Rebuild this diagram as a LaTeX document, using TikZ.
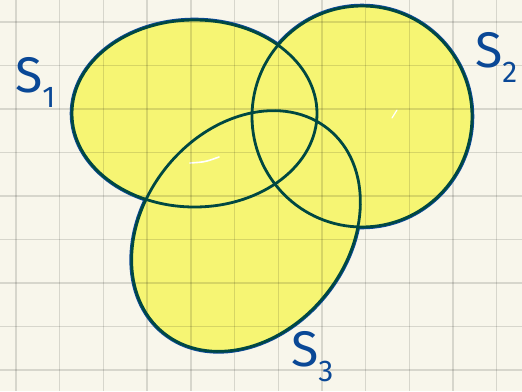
\documentclass[tikz,border=0pt]{standalone}
\usepackage{fontspec}
\setmainfont{Fira Sans}
\definecolor{paper}{RGB}{248,246,235}
\definecolor{hl}{RGB}{246,245,115}
\definecolor{ink}{RGB}{0,72,66}
\definecolor{pen}{RGB}{10,72,150}
\tikzset{
  gridline/.style={draw=black, draw opacity=0.13, line width=1.4pt},
  setfill/.style={fill=hl},
  setline/.style={draw=ink, line width=2.8pt},
  penline/.style={draw=pen, line width=2.6pt},
  lbl/.style={text=pen, font=\fontsize{50}{50}\selectfont, inner sep=0pt},
}
\newcommand{\subd}[1]{\raisebox{-15pt}{\fontsize{30}{30}\selectfont #1}}
\begin{document}
\begin{tikzpicture}[x=1pt, y=-1pt]
  \useasboundingbox (0,0) rectangle (522,391);
  \fill[paper] (0,0) rectangle (522,391);
  % highlighter fills
  \fill[setfill] (194.5,113.5) ellipse [x radius=122.5pt, y radius=93.5pt];
  \fill[setfill] (362,116.5) ellipse [x radius=110pt, y radius=110.5pt];
  \fill[setfill, shift={(246,231)}, rotate=51] (0,0) ellipse [x radius=131pt, y radius=102pt];
  % white gleams
  \draw[white, line width=1.6pt, line cap=round] (190,163) .. controls (205,162) .. (219,157);
  \draw[white, line width=1.2pt, line cap=round] (392,118) -- (397,110);
  % grid
  \foreach \gx in {16,59.7,103.4,147.1,190.8,234.5,278.2,321.9,365.6,409.3,453,496.7}
    \draw[gridline] (\gx,0) -- (\gx,391);
  \foreach \gy in {22,65.5,109,152.5,196,239.5,283,326.5,370}
    \draw[gridline] (0,\gy) -- (522,\gy);
  % blue pen fringe outside the union
  \begin{scope}[even odd rule]
    \clip (-10,-10) rectangle (540,400) (194.5,113.5) ellipse [x radius=122.5pt, y radius=93.5pt];
    \clip (-10,-10) rectangle (540,400) (362,116.5) ellipse [x radius=110pt, y radius=110.5pt];
    \clip[shift={(246,231)}, rotate=51] (-900,-900) rectangle (900,900) (0,0) ellipse [x radius=131pt, y radius=102pt];
    \draw[penline] (194.5,113.5) ellipse [x radius=123.5pt, y radius=94.5pt];
    \draw[penline] (362,116.5) ellipse [x radius=111pt, y radius=111.5pt];
    \draw[penline, shift={(246,231)}, rotate=51] (0,0) ellipse [x radius=132pt, y radius=103pt];
  \end{scope}
  % outlines
  \draw[setline] (194.5,113.5) ellipse [x radius=122.5pt, y radius=93.5pt];
  \draw[setline] (362,116.5) ellipse [x radius=110pt, y radius=110.5pt];
  \draw[setline, shift={(246,231)}, rotate=51] (0,0) ellipse [x radius=131pt, y radius=102pt];
  % labels
  \node[lbl, anchor=west] (s1) at (15,82) {S\subd{1}};
  \node[lbl, anchor=west] (s2) at (475,57) {S\subd{2}};
  \node[lbl, anchor=west] (s3) at (291,357) {S\subd{3}};
\end{tikzpicture}
\end{document}
